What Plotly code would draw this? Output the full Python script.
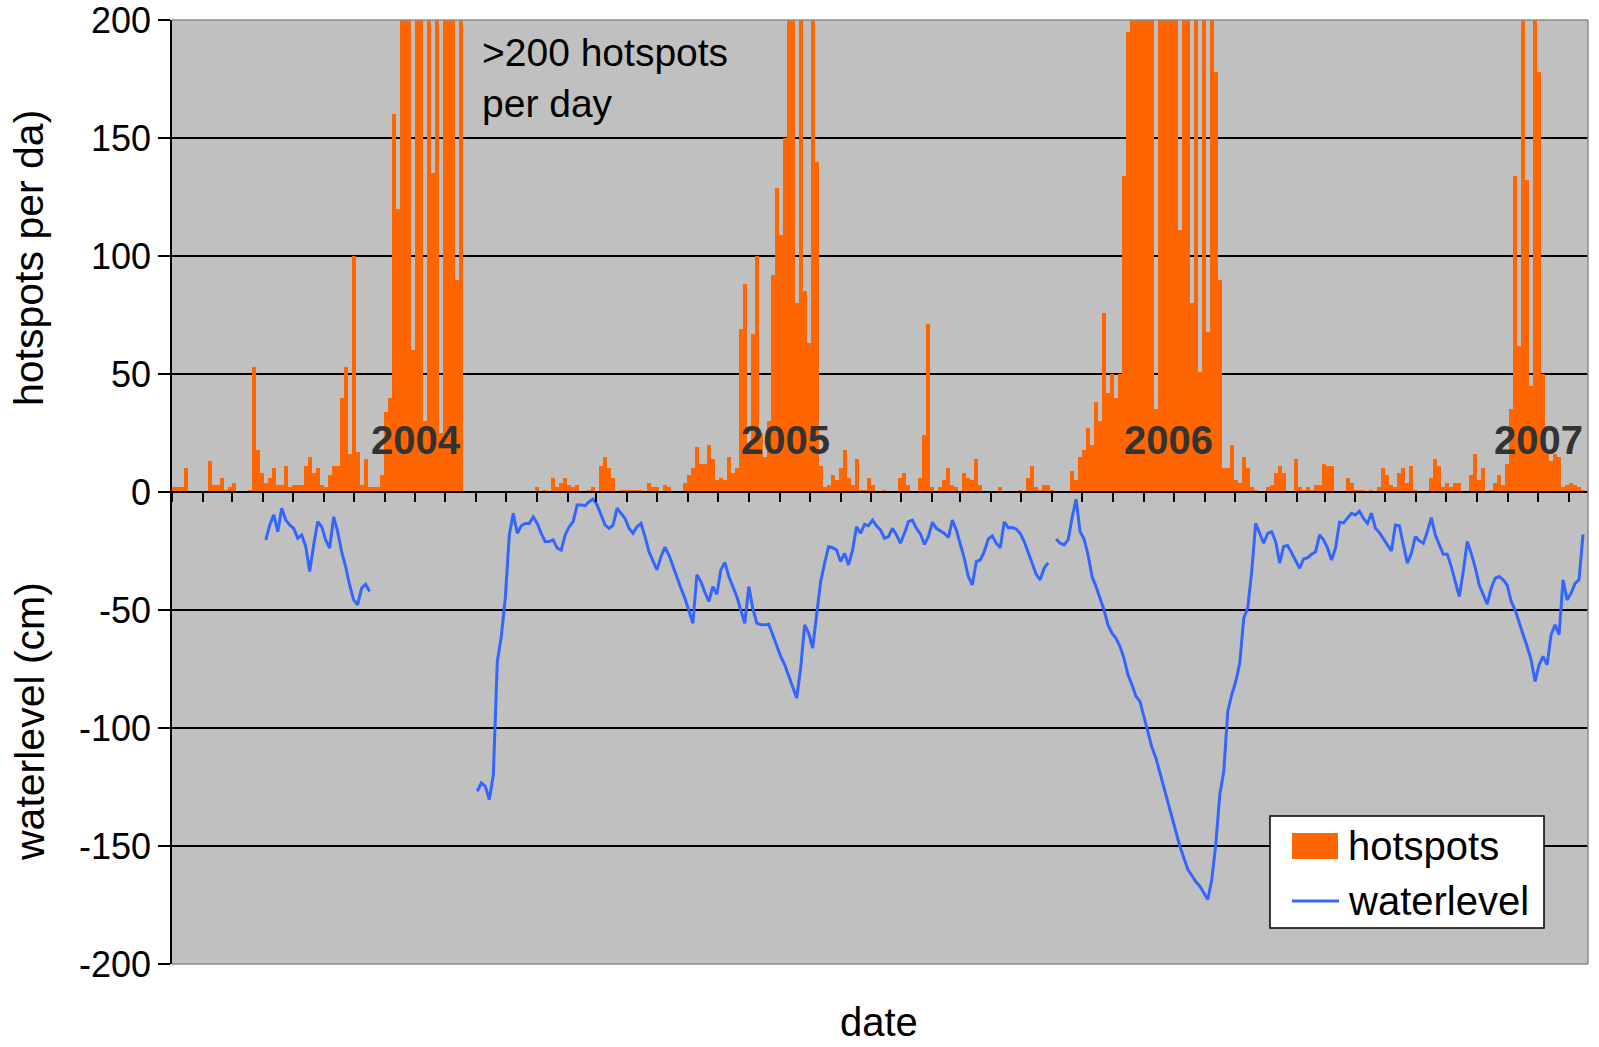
import pandas as pd
import plotly.graph_objects as go

# ---------------- data (4-day bins starting 2004-01-01) ----------------
bin_start = "2004-01-03"   # centre of first 4-day bin
n_bins = 354
bin_days = 4

hotspots = [
    2, 2, 2, 10, 0, 0, 0, 0, 0, 13,
    3, 3, 6, 1, 2, 4, 0, 0, 0, 1,
    53, 18, 8, 4, 6, 10, 3, 3, 11, 2,
    3, 3, 3, 11, 15, 8, 10, 3, 2, 7,
    11, 11, 40, 53, 16, 100, 17, 3, 14, 2,
    2, 2, 7, 34, 40, 160, 120, 250, 250, 250,
    60, 250, 250, 30, 250, 135, 250, 25, 250, 250,
    250, 90, 250, 0, 0, 0, 0, 0, 0, 0,
    0, 0, 0, 0, 0, 0, 0, 0, 0, 0,
    0, 2, 0, 1, 0, 6, 2, 4, 6, 3,
    2, 3, 0, 0, 1, 2, 0, 11, 15, 10,
    6, 0, 1, 1, 1, 1, 1, 1, 0, 4,
    2, 2, 0, 3, 2, 0, 0, 0, 4, 7,
    10, 19, 12, 12, 20, 14, 5, 6, 5, 15,
    8, 10, 69, 88, 20, 67, 100, 25, 15, 30,
    92, 129, 109, 150, 250, 250, 80, 250, 85, 63,
    250, 140, 11, 2, 3, 7, 5, 10, 18, 6,
    3, 14, 1, 1, 6, 3, 0, 0, 1, 0,
    0, 0, 6, 8, 3, 0, 0, 6, 24, 71,
    2, 0, 2, 5, 10, 3, 2, 0, 8, 6,
    5, 14, 3, 0, 0, 0, 0, 2, 0, 0,
    0, 0, 1, 0, 6, 11, 2, 1, 3, 3,
    1, 0, 0, 0, 0, 9, 5, 15, 18, 27,
    20, 38, 30, 76, 42, 50, 40, 50, 134, 195,
    250, 250, 250, 250, 250, 250, 35, 250, 250, 250,
    250, 250, 111, 250, 250, 80, 250, 51, 250, 68,
    250, 178, 90, 10, 10, 20, 5, 4, 15, 10,
    2, 1, 0, 0, 2, 3, 8, 11, 8, 0,
    0, 14, 2, 1, 2, 1, 3, 3, 12, 11,
    11, 0, 0, 0, 6, 4, 1, 1, 1, 0,
    1, 0, 2, 10, 7, 3, 2, 8, 10, 4,
    11, 1, 0, 0, 0, 6, 14, 11, 2, 4,
    2, 4, 4, 0, 0, 7, 16, 5, 10, 0,
    1, 4, 7, 3, 12, 35, 134, 62, 250, 132,
    45, 250, 178, 50, 16, 13, 16, 15, 2, 3,
    4, 3, 2, 1,
]

# waterlevel segments (cm), same 4-day bins; gaps = no measurement
water_2004 = [
    -20.3, -14, -9.7, -16.8, -6.9, -11.9, -14, -15.4, -19.6, -18.2,
    -23.1, -33.7, -22.4, -12.6, -14.7, -20.3, -23.8, -10.5, -16.8, -25.3,
    -31.6, -39.4, -45.7, -47.8, -40.8, -39.1, -42.2,
]
water_2005 = [
    -126.8, -123.3, -124.7, -130.3, -120, -71.8, -61.2, -45, -18.2, -9,
    -17.5, -14.3, -13.3, -13.3, -10.5, -13.3, -17.5, -21, -21, -20.3,
    -23.8, -24.6, -18.2, -14.7, -12.6, -5.5, -5.5, -5.8, -4.1, -3,
    -5.5, -9.7, -14, -15.4, -14, -6.9, -9, -11.2, -15.4, -17.5,
    -14.7, -13.3, -18.9, -25.3, -29.2, -33, -27.4, -23.4, -26.7, -31.6,
    -35.8, -40.8, -45, -50.4, -55.6, -35.1, -38, -42.5, -46.4, -40.1,
    -43.3, -33, -29.8, -35.8, -40.1, -44.3, -50, -55.6, -40.1, -49.2,
    -55.6, -56.3, -56.3, -56, -60.5, -65.5, -69.7, -73.2, -78.2, -82.4,
    -87.3, -74.6, -56.3, -59.8, -66.2, -52, -38, -30.2, -23.1, -23.6,
    -24.6, -29.5, -26,
    -30.9, -24.6, -14.7, -17.5, -13.7, -14.3, -11.9, -14.3, -16.1, -19.6,
    -18.9, -15.4, -18.2, -21.7, -17.5, -12.6, -11.9, -15.4, -17.8, -22.2,
    -18.9, -12.8, -15.4, -16.5, -17.6, -19.3, -11.9, -16.1, -21.7, -28.1,
    -35.8, -39.4, -29.5, -28.8, -25.3, -19.9, -18.6, -21.7, -23.6, -12.6,
    -15.1, -15, -15.7, -17.5, -21, -25.3, -30.2, -34.9, -37.2, -32.3,
    -30,
]
water_2006 = [
    -19.9, -21.7, -22.4, -20.3, -10.9, -3, -16.8, -19.9, -26.7, -35.8,
    -40.1, -45, -50, -56.3, -59.8, -62, -65.5, -70.4, -77.5, -81.7,
    -86.6, -88.7, -95.1, -101.4, -108.2, -112.7, -119.1, -125.4, -131.8, -137.4,
    -143.7, -150.1, -155, -160, -162.5, -165.2, -167, -169.6, -172.7, -164.2,
    -149.4, -128.2, -118.4, -93, -85.9, -80.3, -72.5, -53.5, -49.2, -33.7,
    -13.3, -17.5, -21.7, -17.5, -16.8, -21,
    -30.2, -23.1, -22.7, -25.8, -28.8, -32.3, -28.4, -27.8, -26.4, -25.3,
    -18.2, -20.3, -23.8, -28.8, -23.8, -12.8, -13.1, -10.9, -9, -9.7,
    -8.1, -11.2, -13.3, -9, -15.4, -17.2, -19.9, -22.4, -25, -14,
    -14.3, -22.4, -30.2, -26, -18.9, -20.7, -21.7, -16.8, -10.9, -18.2,
    -22.2, -26.4, -26.4, -31.6, -38, -44.3, -33.7, -21, -26, -32,
    -39.4, -43.6, -47.5, -40.8, -36.5, -35.8, -37.2, -39.4, -46.4, -50,
    -55.6, -60.5, -65.5, -71.1, -80.3, -73.2, -69.7, -73.2, -60.5, -56.3,
    -60.5, -37.2, -45.7, -42.9, -38.7, -37.2, -18,
]
gap_before_2004 = 23
gap_after_2004 = 26
gap_after_2005 = 1

waterlevel = ([None] * gap_before_2004 + water_2004 + [None] * gap_after_2004
              + water_2005 + [None] * gap_after_2005 + water_2006)
waterlevel = (waterlevel + [None] * n_bins)[:n_bins]

y_ticks = [200, 150, 100, 50, 0, -50, -100, -150, -200]
y_ticktext = ["200", "150", "100", "50", "0", "-50", "-100", "-150", "-200"]

year_labels = ["2004", "2005", "2006", "2007"]
year_label_dates = ["2004-09-02", "2005-09-07", "2006-09-26", "2007-10-01"]

dates = pd.date_range(bin_start, periods=n_bins, freq=f"{bin_days}D")

# ---------------- figure ----------------
FONT = "Liberation Sans, Arial, sans-serif"
ORANGE = "#FF6600"
BLUE = "#3366FF"

fig = go.Figure()
fig.add_trace(go.Bar(
    x=dates, y=hotspots[:n_bins], name="hotspots",
    marker=dict(color=ORANGE, line=dict(width=0)),
    width=bin_days * 86400000, showlegend=False,
))
fig.add_trace(go.Scatter(
    x=dates, y=waterlevel, name="waterlevel", mode="lines",
    line=dict(color=BLUE, width=3),
    connectgaps=False, showlegend=False,
))

W, H = 1599, 1047
L, R, T, B = 172, 11, 20, 83
pw, ph = W - L - R, H - T - B

def px(x):  # pixel -> paper x
    return (x - L) / pw

def py(y):  # pixel -> paper y
    return (H - B - y) / ph

fig.update_layout(
    width=W, height=H,
    margin=dict(l=L, r=R, t=T, b=B, pad=0, autoexpand=False),
    paper_bgcolor="white", plot_bgcolor="#C0C0C0",
    font=dict(family=FONT, color="black", size=34),
    bargap=0,
    showlegend=False,
    xaxis=dict(
        type="date", range=["2004-01-01", "2007-11-20"],
        anchor="free", position=0.5, automargin=False,
        showline=True, linecolor="black", linewidth=2,
        ticks="outside", ticklen=9, tickwidth=1.5, tickcolor="black",
        tick0="2004-01-01", dtick="M1",
        showticklabels=False, showgrid=False, zeroline=False,
    ),
    yaxis=dict(
        range=[-200, 200], tickvals=y_ticks, ticktext=y_ticktext,
        automargin=False, ticklabeloverflow="allow",
        showline=True, linecolor="black", linewidth=1.5,
        ticks="outside", ticklen=12, tickwidth=1.5, tickcolor="black",
        showgrid=True, gridcolor="black", gridwidth=1.5, zeroline=False,
        tickfont=dict(size=36, family=FONT, color="black"),
    ),
)

shapes = [
    # light plot-area border (top, right, bottom)
    dict(type="line", xref="paper", yref="paper", x0=0, x1=1, y0=1, y1=1,
         line=dict(color="#8c8c8c", width=1.5), layer="above"),
    dict(type="line", xref="paper", yref="paper", x0=1, x1=1, y0=0, y1=1,
         line=dict(color="#8c8c8c", width=1.5), layer="above"),
    dict(type="line", xref="paper", yref="paper", x0=0, x1=1, y0=0, y1=0,
         line=dict(color="#8c8c8c", width=1.5), layer="above"),
    # legend box
    dict(type="rect", xref="paper", yref="paper",
         x0=px(1270), x1=px(1544), y0=py(928), y1=py(816),
         fillcolor="white", line=dict(color="black", width=1.5), layer="above"),
    dict(type="rect", xref="paper", yref="paper",
         x0=px(1292), x1=px(1338), y0=py(859), y1=py(833),
         fillcolor=ORANGE, line=dict(width=0), layer="above"),
    dict(type="line", xref="paper", yref="paper",
         x0=px(1292), x1=px(1339), y0=py(901), y1=py(901),
         line=dict(color=BLUE, width=3), layer="above"),
]
fig.update_layout(shapes=shapes)

ann = []
ann.append(dict(text="hotspots", xref="paper", yref="paper", x=px(1346), y=py(846),
                xanchor="left", yanchor="middle", showarrow=False,
                font=dict(size=40, family=FONT, color="black")))
ann.append(dict(text="waterlevel", xref="paper", yref="paper", x=px(1346), y=py(901),
                xanchor="left", yanchor="middle", showarrow=False,
                font=dict(size=40, family=FONT, color="black")))
# axis titles
ann.append(dict(text="hotspots per da)", xref="paper", yref="paper", x=px(29), y=py(258),
                xanchor="center", yanchor="middle", textangle=-90, showarrow=False,
                font=dict(size=41, family=FONT, color="black")))
ann.append(dict(text="waterlevel (cm)", xref="paper", yref="paper", x=px(30), y=py(722),
                xanchor="center", yanchor="middle", textangle=-90, showarrow=False,
                font=dict(size=41, family=FONT, color="black")))
ann.append(dict(text="date", xref="paper", yref="paper", x=px(879), y=py(1046),
                xanchor="center", yanchor="bottom", showarrow=False,
                font=dict(size=40, family=FONT, color="black")))
# note
ann.append(dict(text=">200 hotspots<br>per day", xref="paper", yref="paper",
                x=px(480), y=py(78), xanchor="left", yanchor="middle", align="left",
                showarrow=False, font=dict(size=39, family=FONT, color="black")))
# year labels
for lab, d in zip(year_labels, year_label_dates):
    ann.append(dict(text=f"<b>{lab}</b>", x=d, y=22, xref="x", yref="y",
                    xanchor="center", yanchor="middle", showarrow=False,
                    font=dict(size=40, family=FONT, color="#333333")))
fig.update_layout(annotations=ann)

fig.write_html("out.html", config={"displayModeBar": False},
               post_script="document.body.style.margin='0px';")
